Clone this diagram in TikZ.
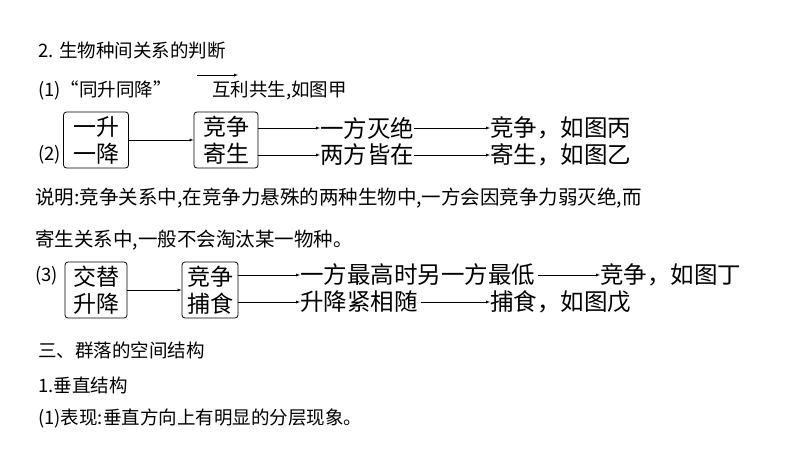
\documentclass[tikz,border=0pt]{standalone}
\usepackage{fontspec}
\setmainfont{Liberation Serif}
\newfontfamily\cjk{Noto Sans CJK SC}
\begin{document}
\begin{tikzpicture}[x=1pt,y=-1pt,
  txt/.style={anchor=west,inner sep=0,font=\cjk\fontsize{18.5}{20}\selectfont},
  big/.style={anchor=west,inner sep=0,font=\cjk\fontsize{23.5}{25}\selectfont},
  bx/.style={draw,rounded corners=3pt,thick,align=center,font=\cjk\fontsize{23}{27}\selectfont,inner sep=1pt},
  arr/.style={-latex,thin}]
\useasboundingbox[fill=white] (0,0) rectangle (800,450);
\node[txt] (t1) at (38,50) {2. 生物种间关系的判断};
\node[txt] (t2) at (38,90) {(1)“同升同降”};
\node[txt] (t3) at (212,90) {互利共生,如图甲};
\coordinate (a1) at (197,75); \coordinate (a2) at (238,75);
\draw[arr] (a1) -- (a2);
\node[txt] (p2) at (38,155) {(2)};
\node[bx,minimum width=65,minimum height=56] (b1) at (96,140) {一升\\一降};
\node[bx,minimum width=64,minimum height=56] (b2) at (226,140) {竞争\\寄生};
\draw[arr] (b1.east) -- (b2.west);
\node[big] (r1) at (320,128) {一方灭绝};
\node[big] (r2) at (320,155) {两方皆在};
\node[big] (s1) at (490,128) {竞争，如图丙};
\node[big] (s2) at (490,155) {寄生，如图乙};
\draw[arr] (b2.east|-r1) -- (r1.west);
\draw[arr] (b2.east|-r2) -- (r2.west);
\draw[arr] (r1.east) -- (s1.west);
\draw[arr] (r2.east) -- (s2.west);
\node[txt,font=\cjk\fontsize{19.5}{21}\selectfont] (n1) at (35,198) {说明:竞争关系中,在竞争力悬殊的两种生物中,一方会因竞争力弱灭绝,而};
\node[txt,font=\cjk\fontsize{19.5}{21}\selectfont] (n2) at (35,240) {寄生关系中,一般不会淘汰某一物种。};
\node[txt] (p3) at (35,276) {(3)};
\node[bx,minimum width=62,minimum height=56] (c1) at (96,290) {交替\\升降};
\node[bx,minimum width=56,minimum height=56] (c2) at (210,290) {竞争\\捕食};
\draw[arr] (c1.east) -- (c2.west);
\node[big] (q1) at (300,275) {一方最高时另一方最低};
\node[big] (q2) at (300,302) {升降紧相随};
\node[big] (u1) at (600,275) {竞争，如图丁};
\node[big] (u2) at (490,302) {捕食，如图戊};
\draw[arr] (c2.east|-q1) -- (q1.west);
\draw[arr] (c2.east|-q2) -- (q2.west);
\draw[arr] (q1.east) ++(3,0) -- (u1.west);
\draw[arr] (q2.east) ++(3,0) -- (u2.west);
\node[txt] (h1) at (38,350) {三、群落的空间结构};
\node[txt] (h2) at (38,385) {1.垂直结构};
\node[txt] (h3) at (38,418) {(1)表现:垂直方向上有明显的分层现象。};
\end{tikzpicture}
\end{document}
